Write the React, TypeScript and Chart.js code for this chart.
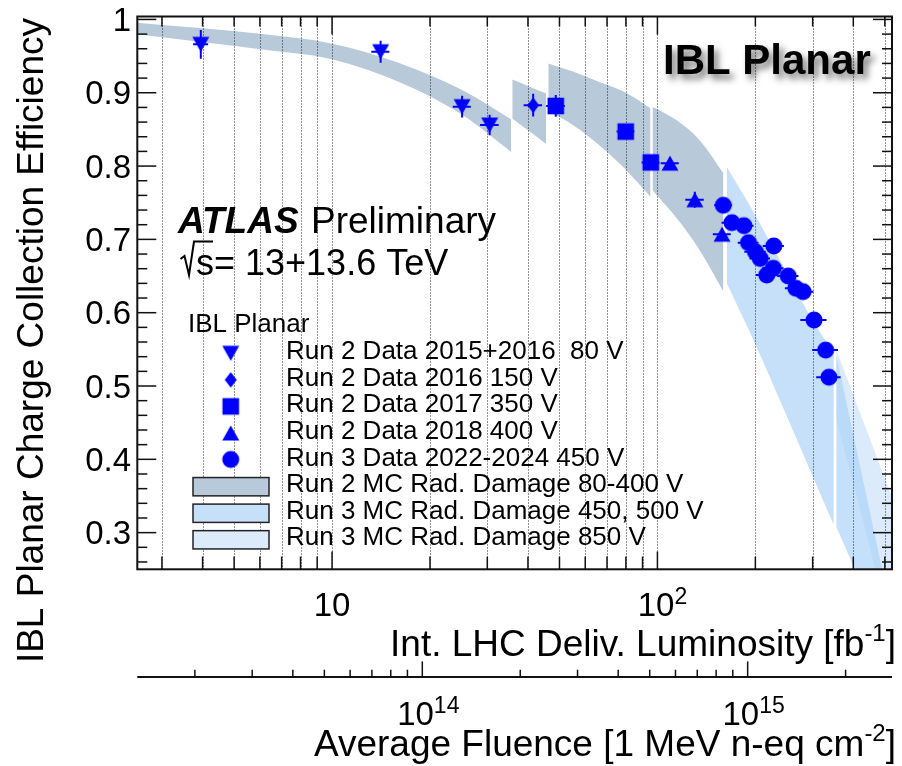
import React, { useEffect, useRef } from "react";
import { Chart, registerables } from "chart.js";

Chart.register(...registerables);

const FONT = '"Liberation Sans", Arial, Helvetica, sans-serif';
const BLUE = "#0000ff";

// Axis ranges
const LUMI_MIN = 2.52;
const LUMI_MAX = 526;
const EFF_MIN = 0.25;
const EFF_MAX = 1.004;
// Average fluence delivered per fb^-1 at the IBL radius
const FLUENCE_PER_LUMI = 5.28e12;

// ---- Measurements ----
// Run 2 Data 2015+2016, 80 V
const lumi2015 = [3.95, 14.1, 25.1, 30.5];
const eff2015 = [0.966, 0.956, 0.881, 0.856];
const eff2015Err = [0.0195, 0.015, 0.0148, 0.014];
const lumi2015Err = [0.21, 0.9, 1.6, 2.0];

// Run 2 Data 2016, 150 V
const lumi2016 = [41.5];
const eff2016 = [0.883];
const eff2016Err = [0.0155];
const lumi2016Err = [2.7];

// Run 2 Data 2017, 350 V
const lumi2017 = [48.7, 79.9, 95.4];
const eff2017 = [0.882, 0.847, 0.805];
const eff2017Err = [0.0148, 0.008, 0.008];
const lumi2017Err = [3.2, 5.0, 6.0];

// Run 2 Data 2018, 400 V
const lumi2018 = [109.3, 130.3, 158];
const eff2018 = [0.804, 0.754, 0.707];
const eff2018Err = [0.008, 0.011, 0.008];
const lumi2018Err = [7.0, 8.5, 10];

// Run 3 Data 2022-2024, 450 V
const lumiRun3 = [159.4, 169.4, 184.4, 190.5, 227.8, 200, 206.9, 227, 216.7, 252.4, 266.4, 280.4, 302.9, 328.9, 336.6];
const effRun3 = [0.7465, 0.7228, 0.7187, 0.6955, 0.691, 0.6832, 0.674, 0.6606, 0.6514, 0.65, 0.6333, 0.6287, 0.59, 0.549, 0.512];
const effRun3Err = [0.004, 0.004, 0.004, 0.004, 0.004, 0.004, 0.004, 0.004, 0.004, 0.004, 0.004, 0.004, 0.004, 0.004, 0.004];
const lumiRun3Err = [10, 12, 13, 14, 17, 15, 15, 17, 16, 19, 20, 21, 28, 30, 29];

// ---- Radiation damage simulation bands (upper / lower edge) ----
const mc80Lumi = [2.4, 6.1, 10, 16, 25.1, 35.5];
const mc80Hi = [0.9962, 0.98, 0.967, 0.941, 0.9037, 0.864];
const mc80Lo = [0.981, 0.959, 0.9456, 0.915, 0.87, 0.8196];

const mc150Lumi = [35.8, 40.2, 45.5];
const mc150Hi = [0.918, 0.909, 0.899];
const mc150Lo = [0.865, 0.848, 0.83];

const mc350Lumi = [46.2, 55, 66, 80, 95.2];
const mc350Hi = [0.94, 0.929, 0.915, 0.9, 0.879];
const mc350Lo = [0.875, 0.856, 0.829, 0.795, 0.758];

const mc400Lumi = [96.6, 115, 135, 159.5];
const mc400Hi = [0.881, 0.862, 0.835, 0.7905];
const mc400Lo = [0.767, 0.728, 0.685, 0.629];

const mc450Lumi = [163.3, 200, 250, 300, 348.5];
const mc450Hi = [0.799, 0.733, 0.654, 0.589, 0.545];
const mc450Lo = [0.64, 0.557, 0.4585, 0.377, 0.3105];

const mc500Lumi = [354.5, 420, 530];
const mc500Hi = [0.542, 0.39, 0.18];
const mc500Lo = [0.308, 0.233, 0.129];

const mc850Lumi = [354.5, 420, 530];
const mc850Hi = [0.549, 0.4627, 0.344];
const mc850Lo = [0.454, 0.331, 0.154];

// ---- Axis ticks ----
const effTicks = [0.3, 0.4, 0.5, 0.6, 0.7, 0.8, 0.9, 1.0];
const effTickLabels = ["0.3", "0.4", "0.5", "0.6", "0.7", "0.8", "0.9", "1"];
const lumiTicks = [3, 4, 5, 6, 7, 8, 9, 10, 20, 30, 40, 50, 60, 70, 80, 90, 100, 200, 300, 400, 500];
const lumiMajorTicks = [10, 100];
const fluenceTicks = [2e13, 3e13, 4e13, 5e13, 6e13, 7e13, 8e13, 9e13, 1e14, 2e14, 3e14, 4e14, 5e14, 6e14, 7e14, 8e14, 9e14, 1e15, 2e15];
const fluenceMajorTicks = [1e14, 1e15];

// ---- Legend ----
const legendHeader = "IBL Planar";
const legendMarkerLabels = [
  "Run 2 Data 2015+2016  80 V",
  "Run 2 Data 2016 150 V",
  "Run 2 Data 2017 350 V",
  "Run 2 Data 2018 400 V",
  "Run 3 Data 2022-2024 450 V",
];
const legendBandLabels = [
  "Run 2 MC Rad. Damage 80-400 V",
  "Run 3 MC Rad. Damage 450, 500 V",
  "Run 3 MC Rad. Damage 850 V",
];

const COL_RUN2 = "rgb(184,201,218)";
const COL_RUN3 = "rgb(198,224,250)";
const COL_RUN3_A = "rgba(172,211,248,0.7)";
const COL_850_A = "rgba(183,215,249,0.5)";
const COL_850 = "rgb(219,235,252)";

const MARKER_KINDS = ["down", "diamond", "square", "up", "circle"];

function markerPath(g: CanvasRenderingContext2D, kind: string, cx: number, cy: number) {
  g.beginPath();
  if (kind === "down") {
    g.moveTo(cx - 8.5, cy - 7.5);
    g.lineTo(cx + 8.5, cy - 7.5);
    g.lineTo(cx, cy + 7.5);
    g.closePath();
  } else if (kind === "up") {
    g.moveTo(cx - 8.5, cy + 7.5);
    g.lineTo(cx + 8.5, cy + 7.5);
    g.lineTo(cx, cy - 7.5);
    g.closePath();
  } else if (kind === "square") {
    g.rect(cx - 8.3, cy - 8.3, 16.6, 16.6);
  } else if (kind === "diamond") {
    g.moveTo(cx, cy - 7.8);
    g.lineTo(cx + 6, cy);
    g.lineTo(cx, cy + 7.8);
    g.lineTo(cx - 6, cy);
    g.closePath();
  } else {
    g.arc(cx, cy, 8.5, 0, Math.PI * 2);
  }
}

function makeMarker(kind: string): HTMLCanvasElement {
  const c = document.createElement("canvas");
  c.width = 20;
  c.height = 20;
  const g = c.getContext("2d")!;
  g.fillStyle = BLUE;
  markerPath(g, kind, 10, 10);
  g.fill();
  return c;
}

function pts(xs: number[], ys: number[]) {
  return xs.map((x, i) => ({ x, y: ys[i] }));
}

// a filled band between an upper and a lower edge line
function bandPair(lumi: number[], hi: number[], lo: number[], color: string) {
  const common = {
    type: "line",
    borderWidth: 0,
    borderColor: "rgba(0,0,0,0)",
    pointRadius: 0,
    cubicInterpolationMode: "monotone",
    order: 1,
  };
  return [
    { ...common, data: pts(lumi, hi), fill: "+1", backgroundColor: color },
    { ...common, data: pts(lumi, lo), fill: false, backgroundColor: color },
  ];
}

function markerSet(lumi: number[], eff: number[], lumiErr: number[], effErr: number[], img: HTMLCanvasElement) {
  return {
    type: "line",
    data: pts(lumi, eff),
    showLine: false,
    pointStyle: img,
    pointRadius: 9,
    order: 0,
    isMarker: true,
    errX: lumiErr,
    errY: effErr,
  };
}

function line(ctx: CanvasRenderingContext2D, x1: number, y1: number, x2: number, y2: number) {
  ctx.beginPath();
  ctx.moveTo(x1, y1);
  ctx.lineTo(x2, y2);
  ctx.stroke();
}

// text with superscripts: parts = [text, isSuperscript]
function drawRich(
  ctx: CanvasRenderingContext2D,
  parts: [string, boolean][],
  x: number,
  y: number,
  align: "left" | "right" | "center",
  size: number,
  supSize: number,
  supRise: number
) {
  const widths = parts.map(([t, sup]) => {
    ctx.font = `${sup ? supSize : size}px ${FONT}`;
    return ctx.measureText(t).width;
  });
  const total = widths.reduce((a, b) => a + b, 0);
  let cx = align === "left" ? x : align === "right" ? x - total : x - total / 2;
  ctx.textAlign = "left";
  ctx.textBaseline = "alphabetic";
  parts.forEach(([t, sup], i) => {
    ctx.font = `${sup ? supSize : size}px ${FONT}`;
    ctx.fillText(t, cx, sup ? y - supRise : y);
    cx += widths[i];
  });
}

// dotted luminosity grid and the data error bars, drawn above the bands but below the markers
function drawGridAndErrors(chart: any) {
  const ctx: CanvasRenderingContext2D = chart.ctx;
  const { left, right, top, bottom } = chart.chartArea;
  const xs = chart.scales.x;
  const ys = chart.scales.y;
  ctx.save();
  ctx.beginPath();
  ctx.rect(left, top, right - left, bottom - top);
  ctx.clip();
  ctx.strokeStyle = "rgba(0,0,0,0.85)";
  ctx.lineWidth = 1;
  ctx.setLineDash([1, 2]);
  lumiTicks.forEach((L) => {
    const x = Math.round(xs.getPixelForValue(L)) + 0.5;
    line(ctx, x, top, x, bottom);
  });
  ctx.setLineDash([]);
  ctx.strokeStyle = BLUE;
  ctx.lineWidth = 2;
  chart.data.datasets.forEach((ds: any) => {
    if (!ds.isMarker) return;
    ds.data.forEach((p: any, j: number) => {
      const x = xs.getPixelForValue(p.x);
      const y = ys.getPixelForValue(p.y);
      line(ctx, xs.getPixelForValue(p.x - ds.errX[j]), y, xs.getPixelForValue(p.x + ds.errX[j]), y);
      line(ctx, x, ys.getPixelForValue(p.y - ds.errY[j]), x, ys.getPixelForValue(p.y + ds.errY[j]));
    });
  });
  ctx.restore();
}

function drawDecor(chart: any, markers: HTMLCanvasElement[]) {
  const ctx: CanvasRenderingContext2D = chart.ctx;
  const { left, right, top, bottom } = chart.chartArea;
  const xs = chart.scales.x;
  const ys = chart.scales.y;
  ctx.save();
  ctx.fillStyle = "#000";
  ctx.strokeStyle = "#111";

  // frame
  ctx.lineWidth = 2;
  ctx.strokeRect(left, top, right - left, bottom - top);

  // efficiency ticks on both sides
  ctx.lineWidth = 1.5;
  for (let k = 13; k <= 50; k++) {
    const y = ys.getPixelForValue(k * 0.02);
    const len = k % 5 === 0 ? 19 : 10;
    line(ctx, left, y, left + len, y);
    line(ctx, right, y, right - len, y);
  }
  // luminosity ticks on bottom and top
  lumiTicks.forEach((L) => {
    const x = xs.getPixelForValue(L);
    const major = lumiMajorTicks.includes(L);
    line(ctx, x, bottom, x, bottom - (major ? 17.7 : 12.7));
    line(ctx, x, top, x, top + (major ? 18 : 10));
  });

  // efficiency tick labels
  ctx.font = `33px ${FONT}`;
  ctx.textAlign = "right";
  ctx.textBaseline = "middle";
  effTicks.forEach((v, i) => {
    ctx.fillText(effTickLabels[i], 131, ys.getPixelForValue(v) + 2.5);
  });

  // luminosity tick labels
  drawRich(ctx, [["10", false]], xs.getPixelForValue(10), 616, "center", 33, 23, 12);
  drawRich(ctx, [["10", false], ["2", true]], xs.getPixelForValue(100) + 5, 616, "center", 33, 23, 12);

  // axis titles
  drawRich(ctx, [["Int. LHC Deliv. Luminosity [fb", false], ["-1", true], ["]", false]], 896, 656, "right", 37, 24, 15);

  ctx.save();
  ctx.translate(43, 18);
  ctx.rotate(-Math.PI / 2);
  ctx.font = `37px ${FONT}`;
  ctx.textAlign = "right";
  ctx.textBaseline = "alphabetic";
  ctx.fillText("IBL Planar Charge Collection Efficiency", 0, 0);
  ctx.restore();

  // secondary fluence axis
  const yf = 677;
  ctx.lineWidth = 2;
  line(ctx, left, yf, right, yf);
  ctx.lineWidth = 1.5;
  fluenceTicks.forEach((F) => {
    const x = xs.getPixelForValue(F / FLUENCE_PER_LUMI);
    const major = fluenceMajorTicks.includes(F);
    line(ctx, x, yf, x, yf - (major ? 15.6 : 7.3));
  });
  drawRich(ctx, [["10", false], ["14", true]], xs.getPixelForValue(1e14 / FLUENCE_PER_LUMI) + 6, 725, "center", 33, 23, 12);
  drawRich(ctx, [["10", false], ["15", true]], xs.getPixelForValue(1e15 / FLUENCE_PER_LUMI) + 6, 725, "center", 33, 23, 12);
  drawRich(ctx, [["Average Fluence [1 MeV n-eq cm", false], ["-2", true], ["]", false]], 896, 756, "right", 37, 24, 15);

  // ATLAS label
  ctx.textAlign = "left";
  ctx.textBaseline = "alphabetic";
  ctx.font = `italic bold 37px ${FONT}`;
  ctx.fillText("ATLAS", 178, 233);
  ctx.font = `37px ${FONT}`;
  ctx.fillText("Preliminary", 311, 233);
  // sqrt(s)
  ctx.lineWidth = 2;
  ctx.strokeStyle = "#000";
  ctx.beginPath();
  ctx.moveTo(180.5, 259);
  ctx.lineTo(184.5, 256);
  ctx.lineTo(189, 275);
  ctx.lineTo(194, 241.5);
  ctx.lineTo(213, 241.5);
  ctx.stroke();
  ctx.font = `36px ${FONT}`;
  ctx.fillText("s= 13+13.6 TeV", 196, 275);

  // sensor title with drop shadow
  ctx.save();
  ctx.font = `bold 42px ${FONT}`;
  ctx.shadowColor = "rgba(0,0,0,0.55)";
  ctx.shadowBlur = 7;
  ctx.shadowOffsetX = 4;
  ctx.shadowOffsetY = 5;
  ctx.fillText("IBL Planar", 663, 73.5);
  ctx.restore();

  // legend
  ctx.font = `26px ${FONT}`;
  ctx.fillText(legendHeader, 188, 332.3);
  const rowStep = 26.55;
  legendMarkerLabels.forEach((label, i) => {
    const base = 359.3 + i * rowStep;
    ctx.drawImage(markers[i], 230.7 - 10, base - 6 - 10);
    ctx.fillText(label, 286, base);
  });
  const bandCols = [COL_RUN2, COL_RUN3, COL_850];
  ctx.strokeStyle = "#222";
  ctx.lineWidth = 1.5;
  legendBandLabels.forEach((label, i) => {
    const base = 359.3 + (i + 5) * rowStep;
    const yTop = base - 14.5;
    ctx.fillStyle = bandCols[i];
    ctx.fillRect(193, yTop, 76, 18.3);
    ctx.strokeRect(193, yTop, 76, 18.3);
    ctx.fillStyle = "#000";
    ctx.fillText(label, 286, base);
  });

  ctx.restore();
}

export default function App() {
  const ref = useRef<HTMLCanvasElement>(null);

  useEffect(() => {
    const canvas = ref.current;
    if (!canvas) return;
    const markers = MARKER_KINDS.map(makeMarker);

    const datasets: any[] = [
      markerSet(lumi2015, eff2015, lumi2015Err, eff2015Err, markers[0]),
      markerSet(lumi2016, eff2016, lumi2016Err, eff2016Err, markers[1]),
      markerSet(lumi2017, eff2017, lumi2017Err, eff2017Err, markers[2]),
      markerSet(lumi2018, eff2018, lumi2018Err, eff2018Err, markers[3]),
      markerSet(lumiRun3, effRun3, lumiRun3Err, effRun3Err, markers[4]),
      ...bandPair(mc80Lumi, mc80Hi, mc80Lo, COL_RUN2),
      ...bandPair(mc150Lumi, mc150Hi, mc150Lo, COL_RUN2),
      ...bandPair(mc350Lumi, mc350Hi, mc350Lo, COL_RUN2),
      ...bandPair(mc400Lumi, mc400Hi, mc400Lo, COL_RUN2),
      ...bandPair(mc450Lumi, mc450Hi, mc450Lo, COL_RUN3),
      ...bandPair(mc500Lumi, mc500Hi, mc500Lo, COL_RUN3_A),
      ...bandPair(mc850Lumi, mc850Hi, mc850Lo, COL_850_A),
    ];

    const decor = {
      id: "iblDecor",
      beforeDraw(chart: any) {
        chart.$gridDone = false;
        const c = chart.ctx;
        c.save();
        c.fillStyle = "#fff";
        c.fillRect(0, 0, chart.width, chart.height);
        c.restore();
      },
      beforeDatasetDraw(chart: any, args: any) {
        const ds = chart.data.datasets[args.index];
        if (ds.isMarker && !chart.$gridDone) {
          drawGridAndErrors(chart);
          chart.$gridDone = true;
        }
      },
      afterDatasetsDraw(chart: any) {
        drawDecor(chart, markers);
      },
    };

    const chart = new Chart(canvas, {
      type: "line",
      data: { datasets },
      options: {
        responsive: false,
        animation: false,
        devicePixelRatio: 1,
        events: [],
        layout: { padding: { left: 137.3, right: 5.5, top: 16.5, bottom: 196.7 } },
        scales: {
          x: { type: "logarithmic", min: LUMI_MIN, max: LUMI_MAX, display: false },
          y: { type: "linear", min: EFF_MIN, max: EFF_MAX, display: false },
        },
        plugins: {
          legend: { display: false },
          tooltip: { enabled: false },
        },
      } as any,
      plugins: [decor],
    } as any);

    return () => chart.destroy();
  }, []);

  return (
    <div style={{ position: "fixed", left: 0, top: 0, width: 902, height: 766, background: "#fff" }}>
      <canvas ref={ref} width={902} height={766} style={{ display: "block" }} />
    </div>
  );
}
